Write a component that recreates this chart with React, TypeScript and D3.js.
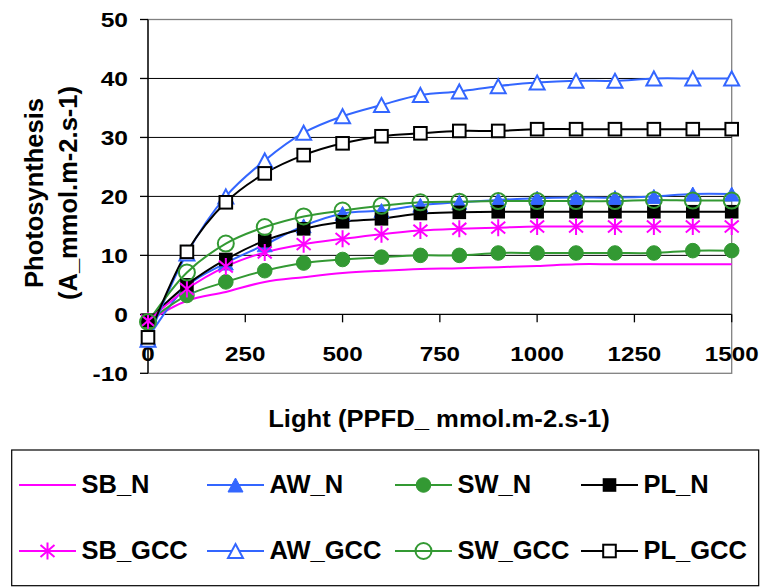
import React from "react";
import * as d3 from "d3";

const lightLevels = [0, 100, 200, 300, 400, 500, 600, 700, 800, 900, 1000, 1100, 1200, 1300, 1400, 1500];

const SB_N = [-1.2, 2.3, 3.8, 5.5, 6.3, 7.0, 7.4, 7.7, 7.8, 8.0, 8.2, 8.5, 8.5, 8.5, 8.5, 8.5];
const AW_N = [-4.0, 4.8, 8.7, 11.8, 15.0, 17.1, 17.6, 18.5, 19.0, 19.4, 19.7, 19.8, 19.8, 20.0, 20.4, 20.4];
const SW_N = [-1.3, 3.2, 5.5, 7.4, 8.7, 9.3, 9.7, 10.0, 10.0, 10.4, 10.4, 10.4, 10.4, 10.4, 10.8, 10.8];
const PL_N = [-1.0, 5.0, 9.3, 12.5, 14.5, 15.7, 16.2, 17.1, 17.3, 17.4, 17.4, 17.4, 17.4, 17.4, 17.4, 17.4];
const SB_GCC = [-1.1, 4.3, 8.1, 10.5, 11.9, 12.8, 13.6, 14.2, 14.5, 14.7, 14.9, 14.9, 14.9, 14.9, 14.9, 14.9];
const AW_GCC = [-4.3, 10.3, 20.0, 26.1, 30.8, 33.6, 35.5, 37.2, 37.8, 38.7, 39.3, 39.6, 39.6, 40.0, 40.0, 40.0];
const SW_GCC = [-1.3, 7.1, 12.0, 14.8, 16.6, 17.6, 18.4, 19.0, 19.1, 19.2, 19.2, 19.2, 19.2, 19.4, 19.3, 19.3];
const PL_GCC = [-3.9, 10.6, 19.0, 23.9, 27.0, 29.0, 30.2, 30.7, 31.1, 31.1, 31.4, 31.4, 31.4, 31.4, 31.4, 31.4];

const seriesNames = ["SB_N", "AW_N", "SW_N", "PL_N", "SB_GCC", "AW_GCC", "SW_GCC", "PL_GCC"];
const seriesValues = [SB_N, AW_N, SW_N, PL_N, SB_GCC, AW_GCC, SW_GCC, PL_GCC];
const seriesColors = ["#FF00FF", "#3366FF", "#339933", "#000000", "#FF00FF", "#3366FF", "#339933", "#000000"];
const seriesMarkers = ["none", "triFilled", "circleFilled", "squareFilled", "star", "triOpen", "circleOpen", "squareOpen"];

const xTicks = [0, 250, 500, 750, 1000, 1250, 1500];
const yTicks = [-10, 0, 10, 20, 30, 40, 50];
const gridValues = [10, 20, 30, 40];

const yTitleLines = ["Photosynthesis", "(A_mmol.m-2.s-1)"];
const xTitle = "Light (PPFD_ mmol.m-2.s-1)";

const FONT = "'Liberation Sans', Arial, Helvetica, sans-serif";

function Marker({ type, x, y, color, scale = 1 }: { type: string; x: number; y: number; color: string; scale?: number }) {
  const s = scale;
  switch (type) {
    case "triFilled":
    case "triOpen": {
      const w = 7.5 * s, h = 7 * s;
      const d = `M${x},${y - h} L${x + w},${y + h} L${x - w},${y + h} Z`;
      return type === "triFilled" ? (
        <path d={d} fill={color} stroke={color} strokeWidth={1} />
      ) : (
        <path d={d} fill="white" stroke={color} strokeWidth={2} />
      );
    }
    case "circleFilled":
      return <circle cx={x} cy={y} r={7.3 * s} fill={color} stroke={color} strokeWidth={1} />;
    case "circleOpen":
      return <circle cx={x} cy={y} r={8 * s} fill="none" stroke={color} strokeWidth={2} />;
    case "squareFilled": {
      const h = 6.8 * s;
      return <rect x={x - h} y={y - h} width={2 * h} height={2 * h} fill={color} />;
    }
    case "squareOpen": {
      const h = 6.3 * s;
      return <rect x={x - h} y={y - h} width={2 * h} height={2 * h} fill="white" stroke={color} strokeWidth={2} />;
    }
    case "star": {
      const a = 7 * s, v = 8.5 * s;
      return (
        <path
          d={`M${x},${y - v} L${x},${y + v} M${x - a},${y - a * 0.85} L${x + a},${y + a * 0.85} M${x - a},${y + a * 0.85} L${x + a},${y - a * 0.85}`}
          stroke={color}
          strokeWidth={2}
          fill="none"
        />
      );
    }
    default:
      return null;
  }
}

function SText({ x, y, sx = 1, size, anchor = "middle", children }: any) {
  return (
    <text
      transform={`translate(${x},${y}) scale(${sx},1)`}
      textAnchor={anchor}
      fontFamily={FONT}
      fontWeight="bold"
      fontSize={size}
      fill="#000"
    >
      {children}
    </text>
  );
}

export default function App() {
  const x = d3.scaleLinear().domain([0, 1500]).range([148, 731.7]);
  const y = d3.scaleLinear().domain([-10, 50]).range([373.3, 19.5]);
  const line = d3
    .line<number>()
    .x((_, i) => x(lightLevels[i]))
    .y((d) => y(d))
    .curve(d3.curveCatmullRom.alpha(0.5));

  const [x0, x1] = x.range();
  const [yb, yt] = y.range();

  const legendCols = [19, 207, 395, 581];
  const legendRows = [485, 551];
  const legendLineLen = 57;

  return (
    <svg
      width={761}
      height={588}
      style={{ position: "absolute", left: 0, top: 0, background: "#fff" }}
    >
      <rect x={0} y={0} width={761} height={588} fill="#fff" />
      {/* plot border */}
      <rect x={x0} y={yt} width={x1 - x0} height={yb - yt} fill="none" stroke="#808080" strokeWidth={1.3} />
      {/* gridlines */}
      {gridValues.map((g) => (
        <line key={g} x1={x0} x2={x1} y1={y(g)} y2={y(g)} stroke="#000" strokeWidth={1} />
      ))}
      {/* y axis */}
      <line x1={x0} x2={x0} y1={yt} y2={yb} stroke="#000" strokeWidth={1.3} />
      {yTicks.map((t) => (
        <g key={t}>
          <line x1={x0 - 8} x2={x0} y1={y(t)} y2={y(t)} stroke="#000" strokeWidth={1.3} />
          <SText x={128} y={y(t) + 7.4} sx={1.2} size={20.5} anchor="end">
            {t}
          </SText>
        </g>
      ))}
      {/* x axis at 0 */}
      <line x1={x0} x2={x1} y1={y(0)} y2={y(0)} stroke="#000" strokeWidth={1.3} />
      {xTicks.map((t) => (
        <g key={t}>
          <line x1={x(t)} x2={x(t)} y1={y(0)} y2={y(0) + 8} stroke="#000" strokeWidth={1.3} />
          <SText x={x(t)} y={360.8} sx={1.18} size={20.5}>
            {t}
          </SText>
        </g>
      ))}
      {/* series lines */}
      {seriesValues.map((vals, si) => (
        <path key={"l" + si} d={line(vals) || ""} fill="none" stroke={seriesColors[si]} strokeWidth={2} />
      ))}
      {/* markers */}
      {seriesValues.map((vals, si) => (
        <g key={"m" + si}>
          {vals.map((v, i) => (
            <Marker key={i} type={seriesMarkers[si]} x={x(lightLevels[i])} y={y(v)} color={seriesColors[si]} />
          ))}
        </g>
      ))}
      {/* axis titles */}
      <g transform="translate(42.5,193) rotate(-90)">
        <text textAnchor="middle" fontFamily={FONT} fontWeight="bold" fontSize={25.5} fill="#000">
          {yTitleLines[0]}
        </text>
      </g>
      <g transform="translate(77,193) rotate(-90)">
        <text textAnchor="middle" fontFamily={FONT} fontWeight="bold" fontSize={25.5} fill="#000">
          {yTitleLines[1]}
        </text>
      </g>
      <SText x={439} y={426.5} sx={1.1} size={23.3}>
        {xTitle}
      </SText>
      {/* legend */}
      <rect x={11.7} y={450} width={747} height={135.7} fill="#fff" stroke="#000" strokeWidth={1.2} />
      {seriesNames.map((name, si) => {
        const col = si % 4;
        const row = Math.floor(si / 4);
        const lx = legendCols[col];
        const ly = legendRows[row];
        return (
          <g key={"lg" + si}>
            <line x1={lx} x2={lx + legendLineLen} y1={ly} y2={ly} stroke={seriesColors[si]} strokeWidth={2} />
            <Marker type={seriesMarkers[si]} x={lx + legendLineLen / 2} y={ly} color={seriesColors[si]} />
            <text
              x={lx + legendLineLen + 5.5}
              y={ly + 8.2}
              fontFamily={FONT}
              fontWeight="bold"
              fontSize={25.5}
              fill="#000"
            >
              {name}
            </text>
          </g>
        );
      })}
    </svg>
  );
}
